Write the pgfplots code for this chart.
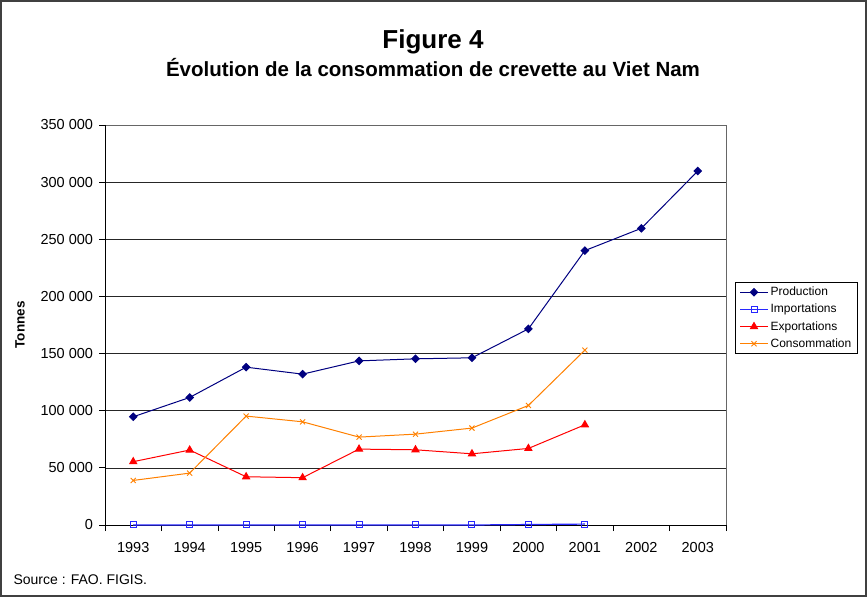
\documentclass[border=0pt]{standalone}
\usepackage{pgfplots}
\pgfplotsset{compat=1.18}
\usepackage{fontspec}
\setmainfont{Liberation Sans}
\definecolor{prodc}{RGB}{0,0,128}
\definecolor{impc}{RGB}{40,40,255}
\definecolor{expc}{RGB}{255,0,0}
\definecolor{consc}{RGB}{255,128,0}
\begin{document}
\begin{tikzpicture}[x=1pt,y=1pt]
\useasboundingbox (0pt,0pt) rectangle (867pt,597pt);
\draw[line width=1.5pt, black!75] (1pt,1pt) rectangle (866pt,596pt);
\node[font=\fontsize{26}{30}\selectfont\bfseries] at (433pt,555pt) {Figure 4};
\node[font=\fontsize{20.5}{24}\selectfont\bfseries] at (433pt,529pt) {Évolution de la consommation de crevette au Viet Nam};
\node[font=\fontsize{14}{16}\selectfont, anchor=west] at (10pt,17pt) {Source : FAO. FIGIS.};
\node[font=\fontsize{13.5}{15}\selectfont\bfseries, rotate=90] at (20pt,272pt) {Tonnes};
\begin{axis}[
  at={(105pt,72pt)}, anchor=south west,
  scale only axis, width=621pt, height=400pt,
  xmin=-0.5, xmax=10.5, ymin=0, ymax=350000,
  xtick={0,...,10},
  xticklabels={1993,1994,1995,1996,1997,1998,1999,2000,2001,2002,2003},
  major x tick style={draw=none},
  minor xtick={-0.5,0.5,...,10.5},
  ytick={0,50000,...,350000},
  tick pos=left,
  scaled y ticks=false,
  yticklabel style={/pgf/number format/fixed, /pgf/number format/1000 sep={\ }},
  /pgf/number format/assume math mode=true,
  tick align=outside,
  major tick length=6pt, minor tick length=6pt,
  major y tick style={draw=none},
  minor x tick style={black, line width=0.8pt},
  ticklabel style={font=\fontsize{14.5}{16}\selectfont},
  xticklabel style={yshift=-8pt},
  yticklabel style={xshift=-2.5pt},
  ymajorgrids,
  grid style={black!85, line width=0.7pt},
  axis line style={draw=none},
  legend style={at={(rel axis cs:1.0145,0.5175)}, anchor=west, font=\fontsize{12}{14}\selectfont, draw=black, line width=0.8pt, inner xsep=4pt, inner ysep=3pt, row sep=3pt, cells={anchor=west}},
  legend image code/.code={\draw[mark repeat=2,mark phase=2] plot coordinates {(0pt,0pt) (14pt,0pt) (28pt,0pt)};},
  legend cell align=left,
  clip=false,
]
\draw[black!60, line width=0.8pt] (rel axis cs:0,1) -- (rel axis cs:1,1) -- (rel axis cs:1,0);
\draw[black, line width=0.8pt] (rel axis cs:0,1) -- (rel axis cs:0,0) -- (rel axis cs:1,0);
\pgfplotsinvokeforeach{0,50000,100000,150000,200000,250000,300000,350000}{
  \draw[black, line width=0.8pt] (axis cs:-0.5,#1) -- ++(-6pt,0pt);
}
\addplot[prodc, line width=1pt, mark=square*, mark size=2.6pt, mark options={solid, rotate=45}] coordinates {
(0,94700) (1,111600) (2,138100) (3,132000) (4,143600) (5,145400) (6,146300) (7,171600) (8,240100) (9,259600) (10,309700)};
\addlegendentry{Production}
\addplot[impc, line width=1.2pt, mark=square, mark size=3pt, mark options={solid, line width=1pt}] coordinates {
(0,0) (1,0) (2,0) (3,0) (4,0) (5,0) (6,0) (7,400) (8,800)};
\addlegendentry{Importations}
\addplot[expc, line width=1pt, mark=triangle*, mark size=4pt, mark options={solid}] coordinates {
(0,55400) (1,65600) (2,42200) (3,41400) (4,66400) (5,65800) (6,62300) (7,67000) (8,87700)};
\addlegendentry{Exportations}
\addplot[consc, line width=1pt, mark=x, mark size=3.6pt, mark options={solid, line width=0.9pt}] coordinates {
(0,39000) (1,45400) (2,95300) (3,90300) (4,76900) (5,79500) (6,84800) (7,104600) (8,153000)};
\addlegendentry{Consommation}
\end{axis}
\end{tikzpicture}
\end{document}
